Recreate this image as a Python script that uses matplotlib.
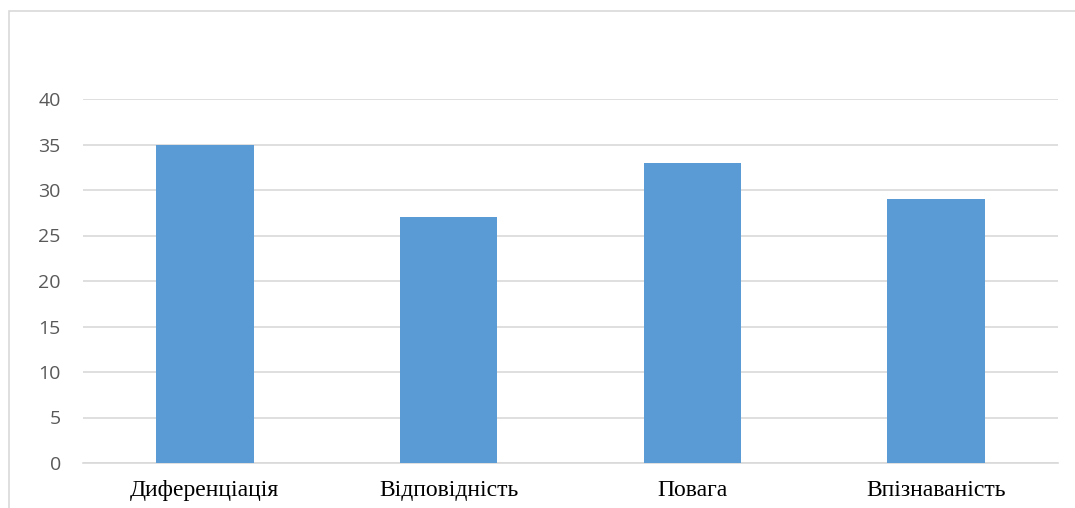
import matplotlib
matplotlib.use("Agg")
import matplotlib.pyplot as plt
from matplotlib.patches import Rectangle

categories = ["Диференціація", "Відповідність", "Повага", "Впізнаваність"]
values = [35, 27, 33, 29]
y_ticks = [0, 5, 10, 15, 20, 25, 30, 35, 40]

W, H = 1075, 508
fig = plt.figure(figsize=(W / 100, H / 100), dpi=100)
fig.patch.set_facecolor("white")

# light chart-area frame
fig.patches.append(Rectangle((9 / W, -0.05), 1.2, 1 - 11 / H + 0.05,
                             transform=fig.transFigure, fill=False,
                             edgecolor="#d9d9d9", linewidth=1.2))

ax = fig.add_axes([83 / W, 1 - 463 / H, (1058 - 83) / W, (463 - 99) / H])
x = list(range(len(categories)))
ax.bar(x, values, width=0.4, color="#5B9BD5", zorder=3)
ax.set_xlim(-0.5, len(categories) - 0.5)
ax.set_ylim(0, 40)
ax.set_yticks(y_ticks)
ax.set_yticklabels([str(t) for t in y_ticks], fontsize=14, color="#595959",
                   fontfamily="Open Sans")
ax.set_xticks(x)
ax.set_xticklabels(categories, fontsize=17, color="black",
                   fontfamily="Liberation Serif")
ax.tick_params(axis="y", length=0, pad=16)
ax.tick_params(axis="x", length=0, pad=12)
ax.grid(axis="y", color="#d9d9d9", linewidth=1.2, zorder=0)
for s in ax.spines.values():
    s.set_visible(False)
ax.spines["bottom"].set_visible(True)
ax.spines["bottom"].set_color("#d9d9d9")
ax.spines["bottom"].set_linewidth(1.2)

fig.savefig("out.png", dpi=100)
